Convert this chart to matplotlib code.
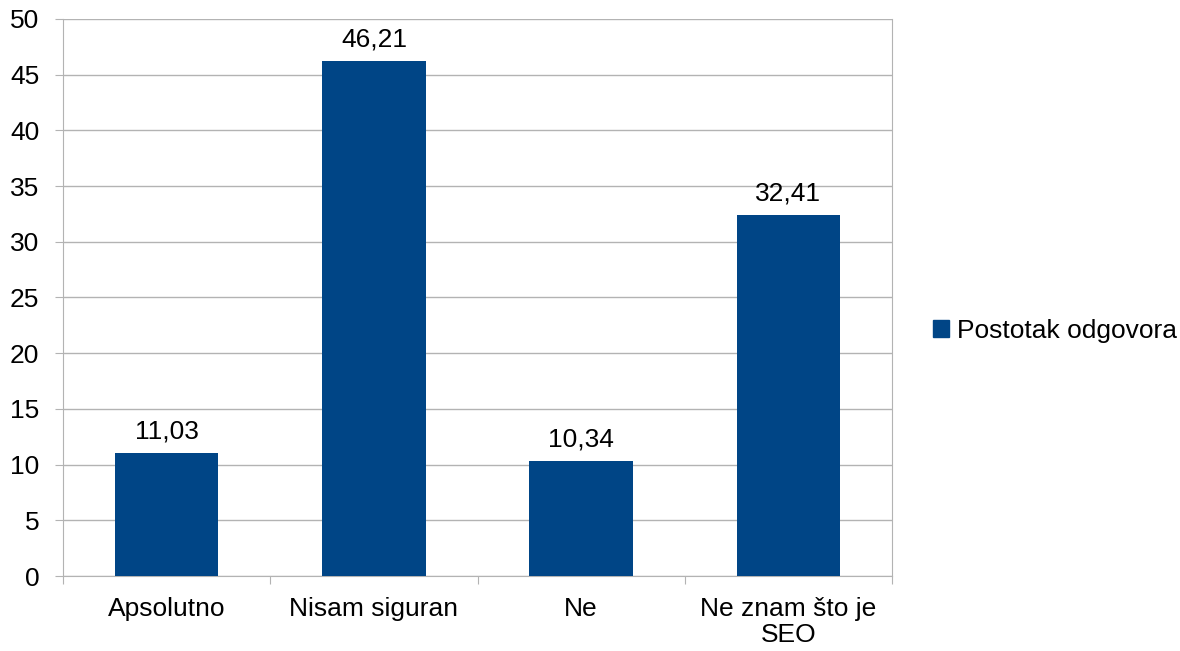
import matplotlib
matplotlib.use('Agg')
import matplotlib.pyplot as plt
from matplotlib.patches import Patch

categories = ['Apsolutno', 'Nisam siguran', 'Ne', 'Ne znam što je\nSEO']
values = [11.03, 46.21, 10.34, 32.41]
labels = ['11,03', '46,21', '10,34', '32,41']
series_name = 'Postotak odgovora'

plt.rcParams['font.family'] = ['Liberation Sans', 'DejaVu Sans']
bar_color = '#004586'
grid_color = '#b3b3b3'
fs = 19

fig = plt.figure(figsize=(11.8, 6.51), dpi=100)
ax = fig.add_axes([63 / 1180, 75 / 651, (892 - 63) / 1180, (576 - 19) / 651])

x = list(range(len(categories)))
ax.bar(x, values, width=0.5, color=bar_color, zorder=3)
for xi, v, lab in zip(x, values, labels):
    ax.annotate(lab, (xi, v), xytext=(0, 7), textcoords='offset points',
                ha='center', va='bottom', fontsize=fs)

ax.set_xlim(-0.5, len(categories) - 0.5)
ax.set_ylim(0, 50)
ax.set_yticks(range(0, 51, 5))
ax.yaxis.grid(True, color=grid_color, linewidth=1, zorder=0)
ax.tick_params(axis='y', length=6, color=grid_color, labelsize=fs, pad=11)

# category boundary ticks on the x axis
ax.set_xticks([i - 0.5 for i in range(len(categories) + 1)])
ax.set_xticklabels([])
ax.tick_params(axis='x', length=6, color=grid_color)
ax.set_xticks(x, minor=True)
ax.set_xticklabels(categories, minor=True, fontsize=fs, linespacing=1.1)
ax.tick_params(axis='x', which='minor', length=0, pad=15)

ax.spines['top'].set_visible(False)
for side in ['left', 'bottom', 'right']:
    ax.spines[side].set_color(grid_color)

fig.legend(handles=[Patch(color=bar_color, label=series_name)],
           loc='center left', bbox_to_anchor=(933 / 1180, 1 - 331 / 651),
           frameon=False, fontsize=fs, handlelength=0.62, handleheight=0.62,
           handletextpad=0.3, borderaxespad=0, borderpad=0)

plt.savefig('out.png', dpi=100)
